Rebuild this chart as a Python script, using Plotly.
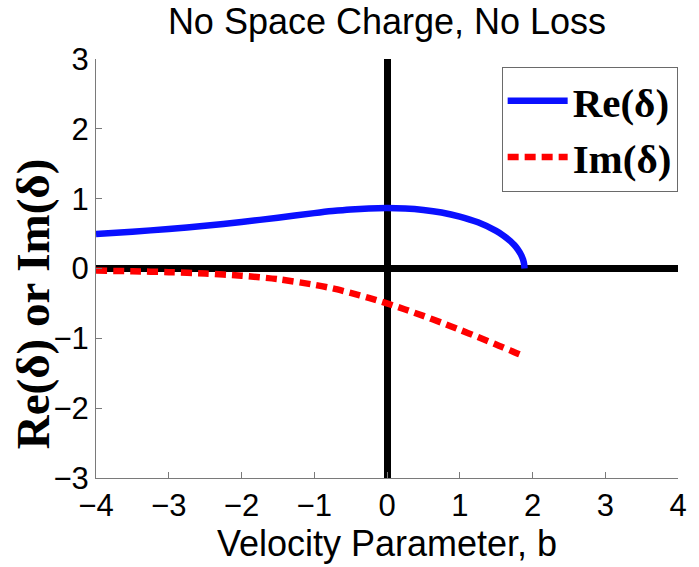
import plotly.graph_objects as go

# Velocity parameter b
b_vals = [-4.0, -3.5, -3.0, -2.5, -2.0, -1.5, -1.0, -0.75, -0.5, -0.25, 0.0, 0.25, 0.5,
          0.75, 1.0, 1.25, 1.5, 1.6, 1.7, 1.75, 1.8, 1.85, 1.87, 1.88, 1.885, 1.89]
# Re(delta)
re_vals = [0.495, 0.527, 0.566, 0.611, 0.666, 0.728, 0.793, 0.822, 0.845, 0.860, 0.866, 0.860, 0.839,
           0.802, 0.744, 0.661, 0.539, 0.472, 0.388, 0.336, 0.271, 0.182, 0.129, 0.090, 0.062, 0.0]
# Im(delta)
im_vals = [-0.030, -0.039, -0.052, -0.072, -0.103, -0.153, -0.233, -0.284, -0.349, -0.420, -0.500, -0.587, -0.679,
           -0.776, -0.877, -0.982, -1.089, -1.132, -1.176, -1.198, -1.220, -1.242, -1.251, -1.256, -1.258, -1.260]

x_ticks = [-4, -3, -2, -1, 0, 1, 2, 3, 4]
y_ticks = [-3, -2, -1, 0, 1, 2, 3]

SANS = "Liberation Sans, Arial, Helvetica, sans-serif"
SERIF = "Liberation Serif, Times New Roman, serif"

fig = go.Figure()
fig.add_trace(go.Scatter(x=b_vals, y=re_vals, mode="lines", name="Re(δ)",
                         line=dict(color="#0a10ff", width=6.5, shape="spline", smoothing=0.8)))
fig.add_trace(go.Scatter(x=b_vals, y=im_vals, mode="lines", name="Im(δ)",
                         line=dict(color="#ff0000", width=6.5, dash="11px,6px",
                                   shape="spline", smoothing=0.8)))

axis_common = dict(
    showline=True, linecolor="#7a7a7a", linewidth=1,
    ticks="inside", ticklen=6, tickcolor="#7a7a7a", tickwidth=1,
    showgrid=False, zeroline=True, zerolinecolor="black", zerolinewidth=7,
    tickfont=dict(family=SANS, size=31, color="black"),
    layer="above traces", mirror=False,
)

fig.update_layout(
    width=699, height=567,
    margin=dict(l=96, r=12, t=59, b=89),
    paper_bgcolor="white", plot_bgcolor="white",
    title=dict(text="No Space Charge, No Loss", x=0.5, xref="paper",
               y=0.962, yanchor="middle",
               font=dict(family=SANS, size=36, color="black")),
    xaxis=dict(range=[-4, 4], tickvals=x_ticks, **axis_common,
               title=dict(text="Velocity Parameter, b", standoff=3,
                          font=dict(family=SANS, size=36, color="black"))),
    yaxis=dict(range=[-3, 3], tickvals=y_ticks, **axis_common),
    legend=dict(x=0.697, y=0.982, xanchor="left", yanchor="top",
                bordercolor="#6a6a6a", borderwidth=1, bgcolor="white",
                font=dict(family=SERIF, size=41, color="black", weight="bold"),
                itemwidth=60, tracegroupgap=0),
    showlegend=True,
)

fig.add_annotation(text="<b>Re(δ) or Im(δ)</b>", textangle=-90,
                   xref="paper", yref="paper", x=-0.109, y=0.416,
                   xanchor="center", yanchor="middle", showarrow=False,
                   font=dict(family=SERIF, size=47, color="black"))

fig.write_html("out.html")
